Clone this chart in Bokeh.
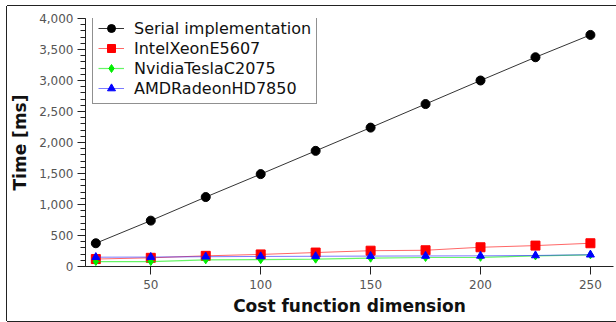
from bokeh.plotting import figure
from bokeh.embed import file_html
from bokeh.resources import INLINE
from bokeh.models import NumeralTickFormatter, Range1d, Legend, LegendItem, FixedTicker

dims = [25, 50, 75, 100, 125, 150, 175, 200, 225, 250]
serial = [375, 740, 1120, 1490, 1865, 2240, 2620, 3000, 3375, 3735]
intel = [120, 140, 172, 195, 225, 255, 262, 310, 337, 375]
nvidia = [80, 80, 107, 110, 118, 134, 145, 148, 170, 188]
amd = [150, 152, 158, 162, 165, 168, 170, 172, 178, 190]
x_ticks = [50, 100, 150, 200, 250]

p = figure(width=609, height=315, output_backend="svg", toolbar_location=None,
           x_range=Range1d(20.3, 260.5), y_range=Range1d(0, 4000),
           min_border_left=78, min_border_right=3, min_border_top=12, min_border_bottom=55)
p.styles = {"margin-left": "7px", "margin-top": "6px",
            "box-shadow": "-1px 0 0 0 #222222, 0 -1px 0 0 #222222, 0 1px 0 0 #222222"}
p.outline_line_color = None
p.grid.grid_line_color = None

p.xaxis.ticker = FixedTicker(ticks=x_ticks)
p.yaxis.ticker = FixedTicker(ticks=list(range(0, 4001, 500)), minor_ticks=list(range(0, 4001, 100)))
p.yaxis.formatter = NumeralTickFormatter(format="0,0")
for ax in (p.xaxis[0], p.yaxis[0]):
    ax.major_label_text_font = "DejaVu Sans"
    ax.major_label_text_font_size = "12px"
    ax.major_label_text_color = "#555555"
    ax.axis_label_text_font = "DejaVu Sans"
    ax.axis_label_text_font_size = "17px"
    ax.axis_label_text_font_style = "bold"
    ax.axis_label_text_color = "#111111"
    ax.axis_line_color = "#222222"
    ax.major_tick_line_color = "#222222"
    ax.minor_tick_line_color = "#222222"
    ax.major_tick_in = 0
    ax.minor_tick_in = 0
p.xaxis.major_tick_out = 8
p.xaxis.minor_tick_line_color = None
p.yaxis.major_tick_out = 8
p.yaxis.minor_tick_out = 5
p.xaxis.axis_label = "Cost function dimension"
p.yaxis.axis_label = "Time [ms]"
p.xaxis.major_label_standoff = 5
p.yaxis.major_label_standoff = 4
p.xaxis.axis_label_standoff = 4
p.yaxis.axis_label_standoff = 6

r1l = p.line(dims, serial, line_color="#000000", line_width=1, line_alpha=0.8)
r1m = p.scatter(dims, serial, marker="circle", size=9, color="#000000")
r2l = p.line(dims, intel, line_color="#ff0000", line_width=1, line_alpha=0.6)
r2m = p.scatter(dims, intel, marker="square", size=9, color="#ff0000")
r3l = p.line(dims, nvidia, line_color="#00ee00", line_width=1.2, line_alpha=0.6)
r3m = p.scatter(dims, nvidia, marker="diamond", size=8, color="#00ee00")
r4l = p.line(dims, amd, line_color="#2222ff", line_width=1, line_alpha=0.6)
r4m = p.scatter(dims, amd, marker="triangle", size=8, color="#0000ff")

legend = Legend(items=[
    LegendItem(label="Serial implementation", renderers=[r1l, r1m]),
    LegendItem(label="IntelXeonE5607", renderers=[r2l, r2m]),
    LegendItem(label="NvidiaTeslaC2075", renderers=[r3l, r3m]),
    LegendItem(label="AMDRadeonHD7850", renderers=[r4l, r4m]),
], location=(7, 162))
legend.label_text_font = "DejaVu Sans"
legend.label_text_font_size = "16px"
legend.label_text_color = "#111111"
legend.border_line_color = "#222222"
legend.border_line_width = 1
legend.padding = 5
legend.spacing = 0
legend.margin = 0
legend.label_height = 20
legend.glyph_height = 20
legend.glyph_width = 26
legend.label_standoff = 10
legend.background_fill_alpha = 1
p.add_layout(legend, "center")

open("out.html", "w").write(file_html(p, INLINE))
